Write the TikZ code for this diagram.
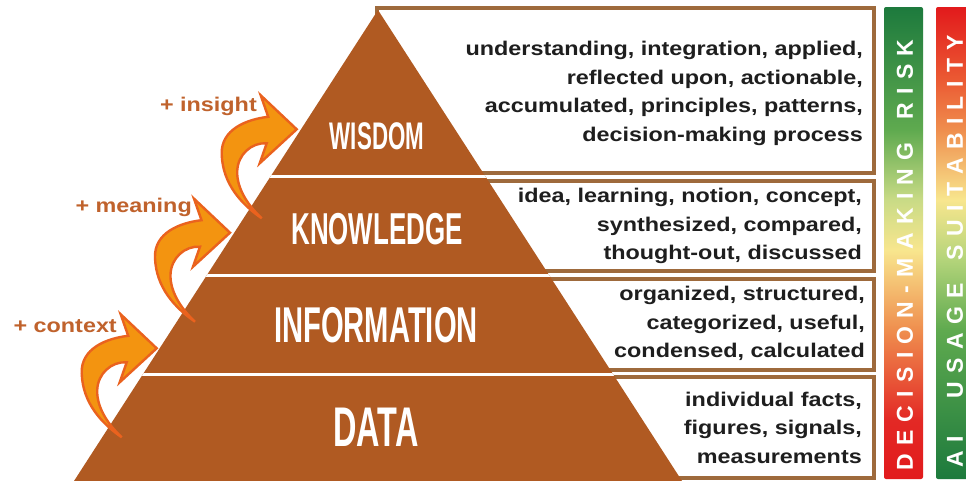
\documentclass[tikz,border=0pt]{standalone}
\usepackage{fontspec}
\setmainfont{Liberation Sans}
\newfontfamily\widefont[FakeStretch=1.18]{Liberation Sans}
\newfontfamily\condfont[FakeStretch=0.58]{Liberation Sans}
\definecolor{pyr}{HTML}{B05A22}
\definecolor{boxline}{HTML}{9E6A3C}
\definecolor{lblcol}{HTML}{C0622C}
\definecolor{arrfill}{HTML}{F39410}
\definecolor{arrline}{HTML}{EA621E}
\definecolor{txt}{HTML}{1E1E1E}
\definecolor{bred}{HTML}{E21A1C}
\definecolor{bred2}{HTML}{E32925}
\definecolor{bredorange}{HTML}{EB5A33}
\definecolor{borange}{HTML}{EF8E4E}
\definecolor{byellow}{HTML}{F8E68E}
\definecolor{bylgreen}{HTML}{C9DB86}
\definecolor{blgreen}{HTML}{B3D47A}
\definecolor{bgreen}{HTML}{5FAA4F}
\definecolor{bdgreen}{HTML}{1D7A3D}
\pgfdeclareverticalshading{riskbar}{100bp}{color(0bp)=(bred); color(25bp)=(bred); color(31.25bp)=(bred2); color(40.78bp)=(borange); color(49.26bp)=(byellow); color(54.56bp)=(bylgreen); color(61.97bp)=(bgreen); color(75bp)=(bdgreen); color(100bp)=(bdgreen)}
\pgfdeclareverticalshading{suitbar}{100bp}{color(0bp)=(bdgreen); color(25bp)=(bdgreen); color(40.78bp)=(bgreen); color(48.2bp)=(blgreen); color(54.56bp)=(byellow); color(61.97bp)=(borange); color(67.27bp)=(bredorange); color(75bp)=(bred); color(100bp)=(bred)}
\makeatletter
\newcommand\spreadtext[2]{\def\sp@gap{#1}\@tfor\sp@t:=#2\do{\sp@t\kern\sp@gap}}
\makeatother
\tikzset{
  boxstyle/.style={draw=boxline, line width=3.5pt, fill=white},
  boxtext/.style={font=\widefont\bfseries\fontsize{19.8}{28.5}\selectfont, align=right, inner sep=0pt, text=txt, anchor=east},
  lvl/.style={font=\condfont\bfseries\fontsize{#1}{#1}\selectfont, text=white, inner sep=0pt},
  lbl/.style={font=\widefont\bfseries\fontsize{19.8}{22}\selectfont, text=lblcol, inner sep=0pt, anchor=east},
  bartext/.style={font=\bfseries\fontsize{23}{23}\selectfont, text=white, inner sep=0pt, rotate=90},
  bentarrow/.pic={
    \draw[fill=arrfill, draw=arrline, line width=2.4pt, line join=miter]
      (0,0) -- (-36,-34) -- (-28.5,-12.5)
      .. controls (-50,-10) and (-76,0) .. (-75,25)
      .. controls (-74,55) and (-55,75) .. (-35,89)
      .. controls (-50,75) and (-60,58) .. (-59.5,42)
      .. controls (-59,25) and (-45,13) .. (-30,14)
      -- (-37,34) -- cycle;
  }
}
\begin{document}
\begin{tikzpicture}[x=1pt,y=-1pt]
\clip (0,0) rectangle (966,480);
\fill[white] (0,0) rectangle (966,480);
% text boxes
\draw[boxstyle] (377,8) rectangle (874,173);
\draw[boxstyle] (377,181) rectangle (874,271);
\draw[boxstyle] (377,279) rectangle (874,370);
\draw[boxstyle] (377,377) rectangle (874,478);
% pyramid
\coordinate (apex) at (378,10);
\coordinate (bl) at (74,481);
\coordinate (br) at (682,481);
\fill[pyr] (apex) -- (br) -- (bl) -- cycle;
\begin{scope}
  \clip (apex) -- (br) -- (bl) -- cycle;
  \draw[white, line width=3pt] (0,176.5) -- (966,176.5);
  \draw[white, line width=3pt] (0,275) -- (966,275);
  \draw[white, line width=3pt] (0,374) -- (966,374);
\end{scope}
\node[lvl=38.5] (wis) at (377,136.5) {WISDOM};
\node[lvl=44.7] (kno) at (377,229) {KNOWLEDGE};
\node[lvl=50.3] (inf) at (376,325) {INFORMATION};
\node[lvl=55.9] (dat) at (376,427) {DATA};
% box texts
\node[boxtext] (wt) at (863,93.5) {understanding, integration, applied,\\reflected upon, actionable,\\accumulated, principles, patterns,\\decision-making process};
\node[boxtext] (kt) at (862,226) {idea, learning, notion, concept,\\synthesized, compared,\\thought-out, discussed};
\node[boxtext] (it) at (865,323.5) {organized, structured,\\categorized, useful,\\condensed, calculated};
\node[boxtext] (dt) at (862,427.5) {individual facts,\\figures, signals,\\measurements};
% arrows and labels
\pic at (296.7,129.3) {bentarrow};
\pic at (230,232.7) {bentarrow};
\pic at (156.7,348.3) {bentarrow};
\node[lbl] (l1) at (257,106) {+ insight};
\node[lbl] (l2) at (192,207) {+ meaning};
\node[lbl] (l3) at (117,326) {+ context};
% bars
\shade[shading=riskbar, rounded corners=2pt] (884,7) rectangle (923,479);
\shade[shading=suitbar, rounded corners=2pt] (936,7) rectangle (975,479);
\node[bartext] (b1) at (905,251) {\spreadtext{8.3pt}{DECISION-MAKING~RISK}};
\node[bartext] (b2) at (955,247) {\spreadtext{8.3pt}{AI~~USAGE~SUITABILITY}};
\end{tikzpicture}
\end{document}
